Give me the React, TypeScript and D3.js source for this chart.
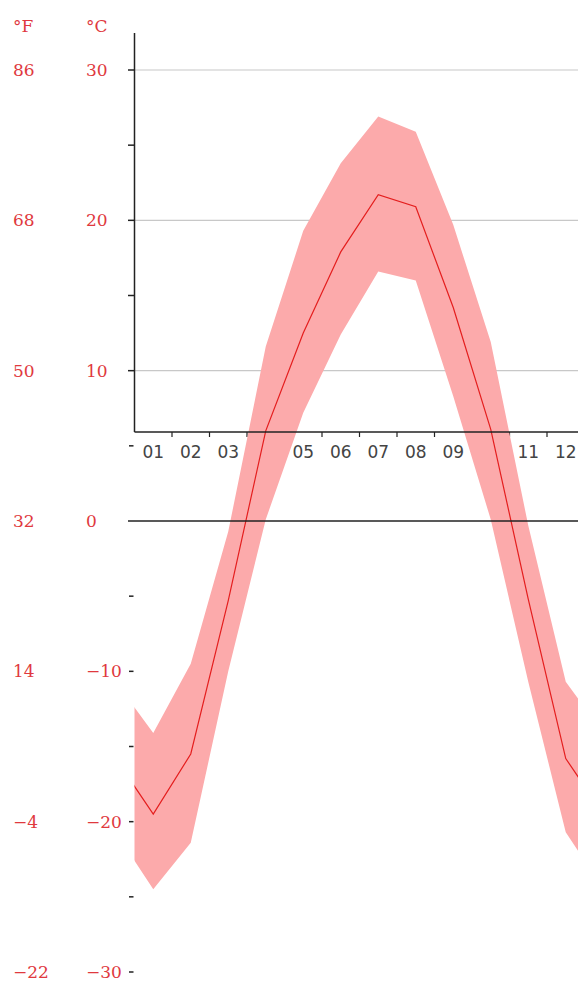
import React, { useEffect, useRef } from 'react';
import * as d3 from 'd3';

// monthly temperatures (°C)
const months = ['01', '02', '03', '04', '05', '06', '07', '08', '09', '10', '11', '12'];
const tempMean = [-19.5, -15.5, -5.3, 6.0, 12.5, 17.9, 21.7, 20.9, 14.2, 6.1, -5.2, -15.8];
const tempMax = [-14.1, -9.5, -0.7, 11.6, 19.3, 23.8, 26.9, 25.9, 19.7, 11.9, -0.3, -10.7];
const tempMin = [-24.5, -21.4, -10.0, 0.1, 7.2, 12.4, 16.6, 16.0, 8.3, 0.1, -10.7, -20.7];

const celsiusTicks = [30, 20, 10, 0, -10, -20, -30];
const fahrenheitLabels = ['86', '68', '50', '32', '14', '−4', '−22'];
const minorTicks = [25, 15, 5, -5, -15, -25];
const gridTicks = [30, 20, 10];

const W = 578;
const H = 985;

const App = () => {
  const svgRef = useRef(null);

  useEffect(() => {
    const svg = d3.select(svgRef.current);
    svg.selectAll('*').remove();

    const left = 134.5;
    const xAxisY = 432;
    const topY = 33;

    const x = d3.scaleLinear().domain([0.5, 12.5]).range([left, left + 450]);
    const y = d3.scaleLinear().domain([-30, 30]).range([972, 70]);

    // wrap december before january and january after december
    const series = [
      { m: 0, mean: tempMean[11], hi: tempMax[11], lo: tempMin[11] },
      ...months.map((_, i) => ({ m: i + 1, mean: tempMean[i], hi: tempMax[i], lo: tempMin[i] })),
      { m: 13, mean: tempMean[0], hi: tempMax[0], lo: tempMin[0] },
    ];

    const defs = svg.append('defs');
    defs.append('clipPath').attr('id', 'plot-clip')
      .append('rect')
      .attr('x', left)
      .attr('y', 0)
      .attr('width', W - left + 20)
      .attr('height', H);

    const labelColor = '#e0393e';
    const labelFont = '"DejaVu Serif", serif';
    const labelSize = 17;

    // grid lines
    svg.append('g').selectAll('line')
      .data(gridTicks)
      .enter()
      .append('line')
      .attr('x1', left)
      .attr('x2', W)
      .attr('y1', d => y(d))
      .attr('y2', d => y(d))
      .attr('stroke', '#c8c8c8')
      .attr('stroke-width', 1.2);

    // month labels (sit under the band)
    svg.append('g').selectAll('text')
      .data(months)
      .enter()
      .append('text')
      .attr('x', (d, i) => x(i + 1))
      .attr('y', 458)
      .attr('text-anchor', 'middle')
      .attr('font-family', '"DejaVu Sans", sans-serif')
      .attr('font-size', 17)
      .attr('fill', '#444')
      .text(d => d);

    // x ticks at month boundaries
    svg.append('g').selectAll('line')
      .data(d3.range(1, 13))
      .enter()
      .append('line')
      .attr('x1', d => x(d + 0.5))
      .attr('x2', d => x(d + 0.5))
      .attr('y1', xAxisY)
      .attr('y2', xAxisY + 5)
      .attr('stroke', '#222')
      .attr('stroke-width', 1.2);

    const plot = svg.append('g').attr('clip-path', 'url(#plot-clip)');

    const area = d3.area()
      .x(d => x(d.m))
      .y0(d => y(d.lo))
      .y1(d => y(d.hi));

    plot.append('path')
      .datum(series)
      .attr('d', area)
      .attr('fill', '#fcaaab');

    const line = d3.line()
      .x(d => x(d.m))
      .y(d => y(d.mean));

    plot.append('path')
      .datum(series)
      .attr('d', line)
      .attr('fill', 'none')
      .attr('stroke', '#e41e1e')
      .attr('stroke-width', 1.2);

    // x axis line
    svg.append('line')
      .attr('x1', left)
      .attr('x2', W)
      .attr('y1', xAxisY)
      .attr('y2', xAxisY)
      .attr('stroke', '#222')
      .attr('stroke-width', 1.5);

    // zero line
    svg.append('line')
      .attr('x1', 128)
      .attr('x2', W)
      .attr('y1', y(0))
      .attr('y2', y(0))
      .attr('stroke', '#222')
      .attr('stroke-width', 1.5);

    // y axis line (only above the x axis)
    svg.append('line')
      .attr('x1', left)
      .attr('x2', left)
      .attr('y1', topY)
      .attr('y2', xAxisY)
      .attr('stroke', '#222')
      .attr('stroke-width', 1.5);

    // y ticks
    const tickVals = [...celsiusTicks.filter(d => d !== 0), ...minorTicks];
    svg.append('g').selectAll('line')
      .data(tickVals)
      .enter()
      .append('line')
      .attr('x1', d => (y(d) < xAxisY ? 128 : 129))
      .attr('x2', d => (y(d) < xAxisY ? left : 133.5))
      .attr('y1', d => y(d))
      .attr('y2', d => y(d))
      .attr('stroke', '#222')
      .attr('stroke-width', 1.5);

    // unit headers
    svg.append('text')
      .attr('x', 13).attr('y', 32)
      .attr('font-family', labelFont).attr('font-size', labelSize)
      .attr('fill', labelColor)
      .text('°F');
    svg.append('text')
      .attr('x', 86).attr('y', 32)
      .attr('font-family', labelFont).attr('font-size', labelSize)
      .attr('fill', labelColor)
      .text('°C');

    // celsius labels
    svg.append('g').selectAll('text')
      .data(celsiusTicks)
      .enter()
      .append('text')
      .attr('x', 86)
      .attr('y', d => y(d))
      .attr('dy', '0.36em')
      .attr('font-family', labelFont)
      .attr('font-size', labelSize)
      .attr('fill', labelColor)
      .text(d => (d < 0 ? '−' + Math.abs(d) : String(d)));

    // fahrenheit labels
    svg.append('g').selectAll('text')
      .data(fahrenheitLabels)
      .enter()
      .append('text')
      .attr('x', 13)
      .attr('y', (d, i) => y(celsiusTicks[i]))
      .attr('dy', '0.36em')
      .attr('font-family', labelFont)
      .attr('font-size', labelSize)
      .attr('fill', labelColor)
      .text(d => d);
  }, []);

  return (
    <svg
      ref={svgRef}
      width={W}
      height={H}
      style={{ position: 'absolute', left: 0, top: 0, background: '#fff' }}
    ></svg>
  );
};

export default App;
